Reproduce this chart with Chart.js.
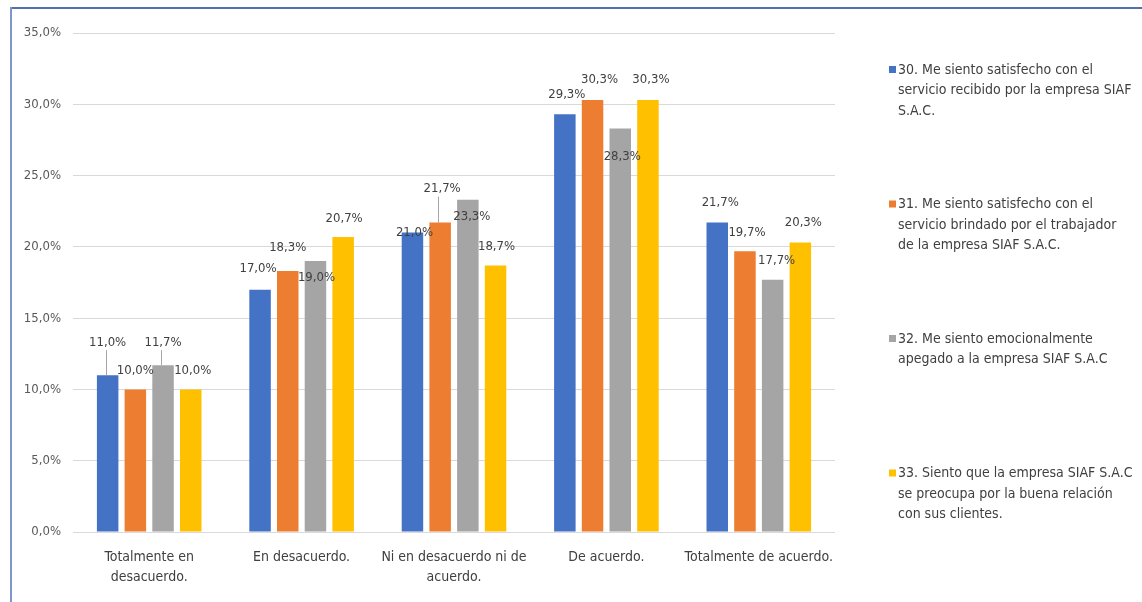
<!DOCTYPE html>
<html>
<head>
<meta charset="utf-8">
<script src="https://cdn.jsdelivr.net/npm/chart.js@4.4.1/dist/chart.umd.min.js"></script>
<style>
  html, body { margin: 0; padding: 0; background: #ffffff; }
  canvas { display: block; }
</style>
</head>
<body>
<canvas id="c" width="1142" height="602"></canvas>
<script>
// Response categories (x axis)
const categories = [
  ['Totalmente en', 'desacuerdo.'],
  ['En desacuerdo.'],
  ['Ni en desacuerdo ni de', 'acuerdo.'],
  ['De acuerdo.'],
  ['Totalmente de acuerdo.']
];

// Survey items (legend text, wrapped as printed)
const seriesNames = [
  ['30. Me siento satisfecho con el', 'servicio recibido por la empresa SIAF', 'S.A.C.'],
  ['31. Me siento satisfecho con el', 'servicio brindado por el trabajador', 'de la empresa SIAF S.A.C.'],
  ['32. Me siento emocionalmente', 'apegado a la empresa SIAF S.A.C'],
  ['33. Siento que la empresa SIAF S.A.C', 'se preocupa por la buena relación', 'con sus clientes.']
];

// Percentages per item
const q30 = [11.0, 17.0, 21.0, 29.3, 21.7];
const q31 = [10.0, 18.3, 21.7, 30.3, 19.7];
const q32 = [11.7, 19.0, 23.3, 28.3, 17.7];
const q33 = [10.0, 20.7, 18.7, 30.3, 20.3];

// Y axis tick values (%)
const yTicks = [0, 5, 10, 15, 20, 25, 30, 35];

const seriesColors = ['#4472C4', '#ED7D31', '#A5A5A5', '#FFC000'];

// Value label placement relative to the top of each bar: [dx, dy, leader line]
const labelNudge = [
  [[0, -33, true], [-2, -21, false], [2, 0, false], [2, -20, false], [3, -20, false]],
  [[0, -19, false], [0, -23, false], [2, -34, true], [7, -20, false], [2, -19, false]],
  [[0, -23, true], [1, 17, false], [4, 17, false], [2, 28, false], [4, -19, false]],
  [[2, -19, false], [1, -18, false], [1, -19, false], [3, -20, false], [3, -20, false]]
];

const FONT = "'Liberation Sans Narrow', 'DejaVu Sans Condensed', 'Arial Narrow', sans-serif";
const fmt = v => v.toFixed(1).replace('.', ',') + '%';

const valueLabels = {
  id: 'valueLabels',
  afterDatasetsDraw(chart) {
    const ctx = chart.ctx;
    ctx.save();
    ctx.font = '13px ' + FONT;
    ctx.textAlign = 'center';
    ctx.textBaseline = 'middle';
    chart.data.datasets.forEach((ds, i) => {
      const meta = chart.getDatasetMeta(i);
      meta.data.forEach((bar, j) => {
        const [dx, dy, leader] = labelNudge[i][j];
        const lx = bar.x + dx, ly = bar.y + dy;
        if (leader) {
          ctx.strokeStyle = '#A6A6A6';
          ctx.lineWidth = 1;
          ctx.beginPath();
          ctx.moveTo(Math.round(bar.x - 2) + 0.5, ly + 8);
          ctx.lineTo(Math.round(bar.x - 2) + 0.5, bar.y);
          ctx.stroke();
        }
        ctx.fillStyle = '#404040';
        ctx.fillText(fmt(ds.data[j]), lx, ly);
      });
    });
    ctx.restore();
  }
};

const sideLegend = {
  id: 'sideLegend',
  afterDraw(chart) {
    const ctx = chart.ctx;
    ctx.save();
    ctx.font = '14px ' + FONT;
    ctx.textBaseline = 'middle';
    ctx.textAlign = 'left';
    const x0 = 889, top = 70, step = 134.5, lineH = 20.5;
    seriesNames.forEach((lines, i) => {
      const y = top + i * step;
      ctx.fillStyle = seriesColors[i];
      ctx.fillRect(x0, y - 4, 7, 7);
      ctx.fillStyle = '#404040';
      lines.forEach((t, k) => ctx.fillText(t, x0 + 9, y + k * lineH));
    });
    ctx.restore();
  }
};

const frame = {
  id: 'frame',
  beforeDraw(chart) {
    const ctx = chart.ctx;
    ctx.save();
    ctx.fillStyle = '#ffffff';
    ctx.fillRect(0, 0, chart.width, chart.height);
    ctx.restore();
  },
  afterDraw(chart) {
    const ctx = chart.ctx;
    ctx.save();
    ctx.fillStyle = '#5470AC';
    ctx.fillRect(10, 7, chart.width - 10, 2);
    ctx.fillStyle = '#7F97C8';
    ctx.fillRect(10, 7, 2, chart.height - 7);
    ctx.restore();
  }
};

const seriesData = [q30, q31, q32, q33];

new Chart(document.getElementById('c'), {
  type: 'bar',
  data: {
    labels: categories,
    datasets: seriesData.map((d, i) => ({
      label: seriesNames[i].join(' '),
      data: d,
      backgroundColor: seriesColors[i],
      borderWidth: 0,
      categoryPercentage: 0.727,
      barPercentage: 0.776
    }))
  },
  options: {
    responsive: false,
    animation: false,
    devicePixelRatio: 1,
    layout: { padding: { left: 12, right: 307, top: 33, bottom: 0 } },
    plugins: {
      legend: { display: false },
      tooltip: { enabled: false },
      title: { display: false }
    },
    scales: {
      x: {
        grid: { display: false, drawTicks: false },
        border: { display: false },
        ticks: {
          color: '#404040',
          font: { family: FONT, size: 14, lineHeight: 1.45 },
          padding: 15,
          maxRotation: 0,
          autoSkip: false
        },
        afterFit(scale) { scale.height = 70; }
      },
      y: {
        min: 0,
        max: 35,
        afterBuildTicks(scale) { scale.ticks = yTicks.map(v => ({ value: v })); },
        grid: { color: '#D9D9D9', lineWidth: 1, drawTicks: false },
        border: { display: false },
        ticks: {
          color: '#595959',
          font: { family: FONT, size: 13 },
          padding: 12,
          callback: v => fmt(v)
        },
        afterFit(scale) { scale.width = 61; }
      }
    }
  },
  plugins: [frame, valueLabels, sideLegend]
});
</script>
</body>
</html>
